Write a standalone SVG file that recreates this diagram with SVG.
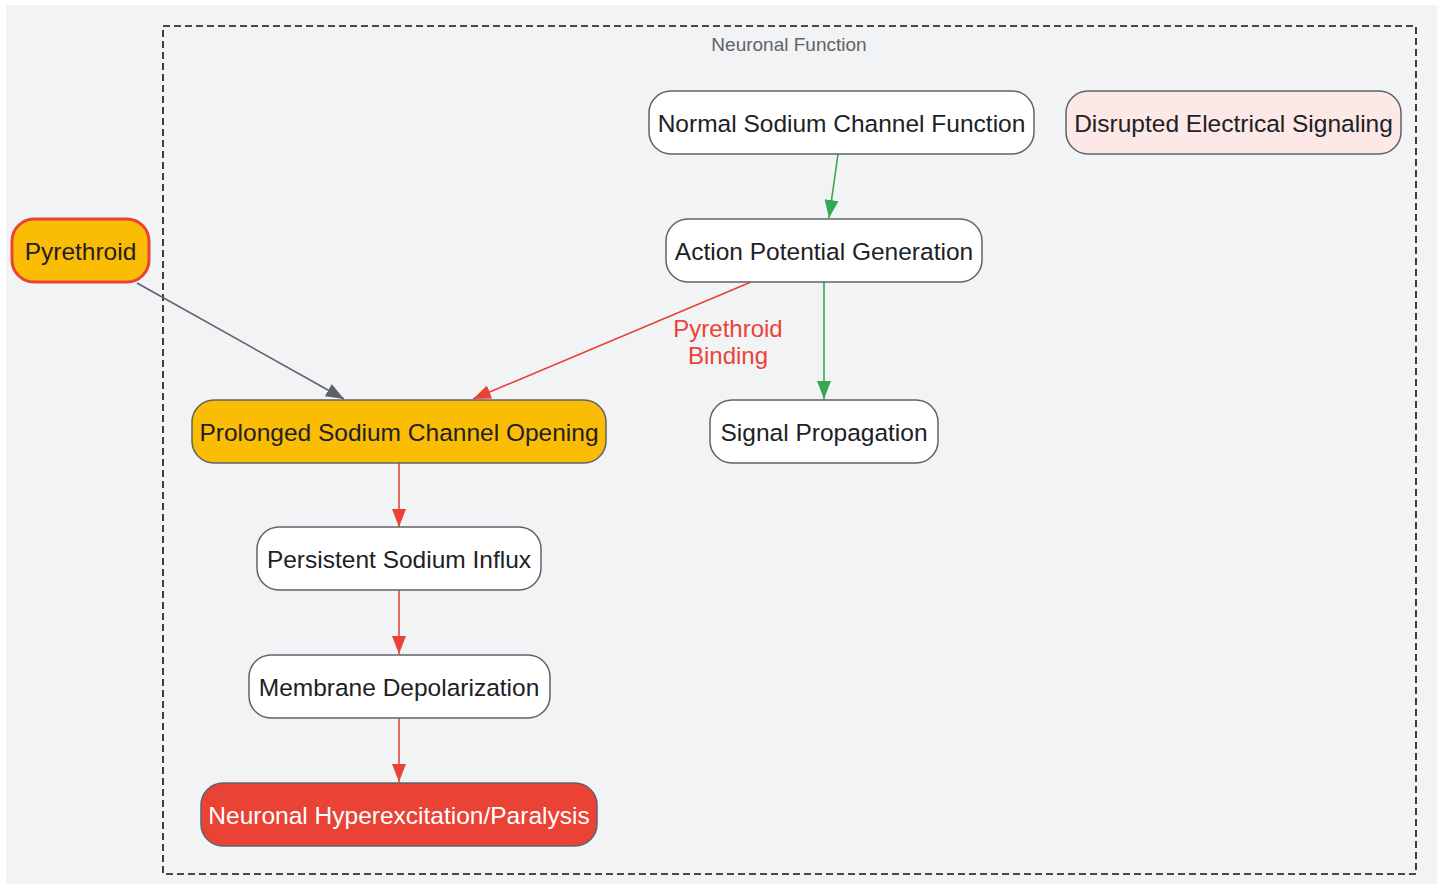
<svg xmlns="http://www.w3.org/2000/svg" width="1443" height="886" viewBox="0 0 1443 886">
<style>
.node rect{stroke:#5f6368;stroke-width:1.5}
.node text{font-family:"Liberation Sans",Arial,sans-serif;font-size:24.5px;fill:#202124;text-anchor:middle;dominant-baseline:central}
.edge{fill:none;stroke-width:1.6}
.g{stroke:#34a853}
.r{stroke:#ea4335}
.k{stroke:#5f6368}
</style>
<defs>
<marker id="ar" viewBox="0 0 18 14" refX="18" refY="7" markerWidth="18" markerHeight="14" markerUnits="userSpaceOnUse" orient="auto"><path d="M0,0 L18,7 L0,14 z" fill="#ea4335"/></marker>
<marker id="agr" viewBox="0 0 18 14" refX="18" refY="7" markerWidth="18" markerHeight="14" markerUnits="userSpaceOnUse" orient="auto"><path d="M0,0 L18,7 L0,14 z" fill="#34a853"/></marker>
<marker id="ak" viewBox="0 0 18 14" refX="18" refY="7" markerWidth="18" markerHeight="14" markerUnits="userSpaceOnUse" orient="auto"><path d="M0,0 L18,7 L0,14 z" fill="#5f6368"/></marker>
</defs>
<rect x="0" y="0" width="1443" height="886" fill="#ffffff"/>
<rect x="6" y="5" width="1431" height="879" fill="#f1f3f5"/>
<g id="cluster">
<rect x="163" y="26" width="1253" height="848" fill="none" stroke="#111111" stroke-width="1.6" stroke-dasharray="7,4"/>
<text x="789" y="51" font-family="Liberation Sans,Arial,sans-serif" font-size="19" fill="#5f6368" text-anchor="middle">Neuronal Function</text>
</g>
<g id="connectors">
<path class="edge g" d="M838,154 L829,218" marker-end="url(#agr)"/>
<path class="edge g" d="M824,282 L824,399" marker-end="url(#agr)"/>
<path class="edge k" d="M137,283 L344,399" marker-end="url(#ak)"/>
<path class="edge r" d="M751,282 L473,399" marker-end="url(#ar)"/>
<path class="edge r" d="M399,463 L399,527" marker-end="url(#ar)"/>
<path class="edge r" d="M399,590 L399,654" marker-end="url(#ar)"/>
<path class="edge r" d="M399,718 L399,782" marker-end="url(#ar)"/>
<text font-family="Liberation Sans,Arial,sans-serif" font-size="24" fill="#ea4335" text-anchor="middle"><tspan x="728" y="337">Pyrethroid</tspan><tspan x="728" y="364">Binding</tspan></text>
</g>
<g id="pyrethroid" class="node"><rect x="12" y="219" width="137" height="63" rx="22" fill="#fbbc04" style="stroke:#ea4335;stroke-width:3"/><text x="80.5" y="251">Pyrethroid</text></g>
<g id="normal" class="node"><rect x="649" y="91" width="385" height="63" rx="22" fill="#ffffff"/><text x="841.5" y="123">Normal Sodium Channel Function</text></g>
<g id="disrupted" class="node"><rect x="1066" y="91" width="335" height="63" rx="22" fill="#fce8e6"/><text x="1233.5" y="123">Disrupted Electrical Signaling</text></g>
<g id="action" class="node"><rect x="666" y="219" width="316" height="63" rx="22" fill="#ffffff"/><text x="824" y="251">Action Potential Generation</text></g>
<g id="prolonged" class="node"><rect x="192" y="400" width="414" height="63" rx="22" fill="#fbbc04"/><text x="399" y="432">Prolonged Sodium Channel Opening</text></g>
<g id="signal" class="node"><rect x="710" y="400" width="228" height="63" rx="22" fill="#ffffff"/><text x="824" y="432">Signal Propagation</text></g>
<g id="persistent" class="node"><rect x="257" y="527" width="284" height="63" rx="22" fill="#ffffff"/><text x="399" y="559">Persistent Sodium Influx</text></g>
<g id="membrane" class="node"><rect x="249" y="655" width="301" height="63" rx="22" fill="#ffffff"/><text x="399" y="687">Membrane Depolarization</text></g>
<g id="neuronal" class="node"><rect x="201" y="783" width="396" height="63" rx="22" fill="#ea4335"/><text x="399" y="815" style="fill:#ffffff">Neuronal Hyperexcitation/Paralysis</text></g>
</svg>
